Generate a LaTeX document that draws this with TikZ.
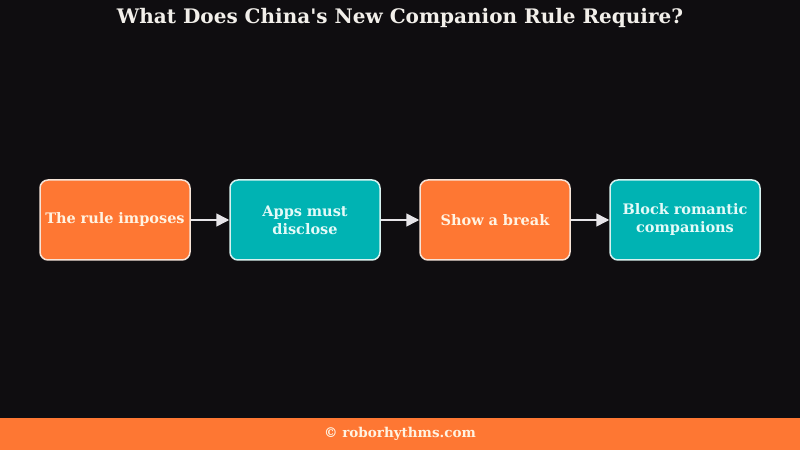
\documentclass[tikz,border=0pt]{standalone}
\usepackage{fontspec}
\setmainfont{DejaVu Serif}[Ligatures=TeXOff]
\usetikzlibrary{arrows.meta,positioning}
\definecolor{bgdark}{HTML}{0F0D10}
\definecolor{boxorange}{HTML}{FE7733}
\definecolor{boxteal}{HTML}{00B3B3}
\definecolor{edgecream}{HTML}{F6E4D8}
\definecolor{edgeteal}{HTML}{D8F2F0}
\definecolor{txtcream}{HTML}{FFF3E2}
\definecolor{txtteal}{HTML}{E4FAF8}
\definecolor{titlewhite}{HTML}{F2EFEA}
\definecolor{arrowgrey}{HTML}{E6E4E8}

\begin{document}
\begin{tikzpicture}
  [
  x=1pt, y=1pt,
  line width=1.5pt,
  >={Triangle[length=13pt,width=13pt]},
  stepnode/.style={rectangle, rounded corners=8pt, minimum width=150pt,
    minimum height=80pt, text width=146pt, align=center, inner sep=0pt,
    font=\fontsize{14.5}{18}\selectfont\bfseries},
  orangebox/.style={stepnode, fill=boxorange, draw=edgecream, text=txtcream},
  tealbox/.style={stepnode, fill=boxteal, draw=edgeteal, text=txtteal},
  flow/.style={->, draw=arrowgrey, fill=arrowgrey, line width=1.5pt},
  node distance=38.5pt,
  ]

  % background and footer
  \fill[bgdark] (0,0) rectangle (800,450);
  \useasboundingbox (0,0) rectangle (800,450);
  \fill[boxorange] (0,0) rectangle (800,32);

  \node[text=titlewhite, font=\fontsize{20}{24}\selectfont\bfseries] (title) at (400,432)
    {What Does China's New Companion Rule Require?};

  \node[orangebox] (imposes) at (115,230) {\raisebox{-1pt}{The rule imposes}};
  \node[tealbox, right=of imposes] (disclose) {Apps must\\disclose};
  \node[orangebox, right=of disclose] (pause) {\raisebox{-1pt}{Show a break}};
  \node[tealbox, right=of pause] (block) {Block romantic\\companions};

  \draw[flow] (imposes) -- (disclose);
  \draw[flow] (disclose) -- (pause);
  \draw[flow] (pause) -- (block);

  \node[text=txtcream, font=\fontsize{13.5}{16}\selectfont\bfseries] (credit) at (400,16)
    {© roborhythms.com};
\end{tikzpicture}
\end{document}
